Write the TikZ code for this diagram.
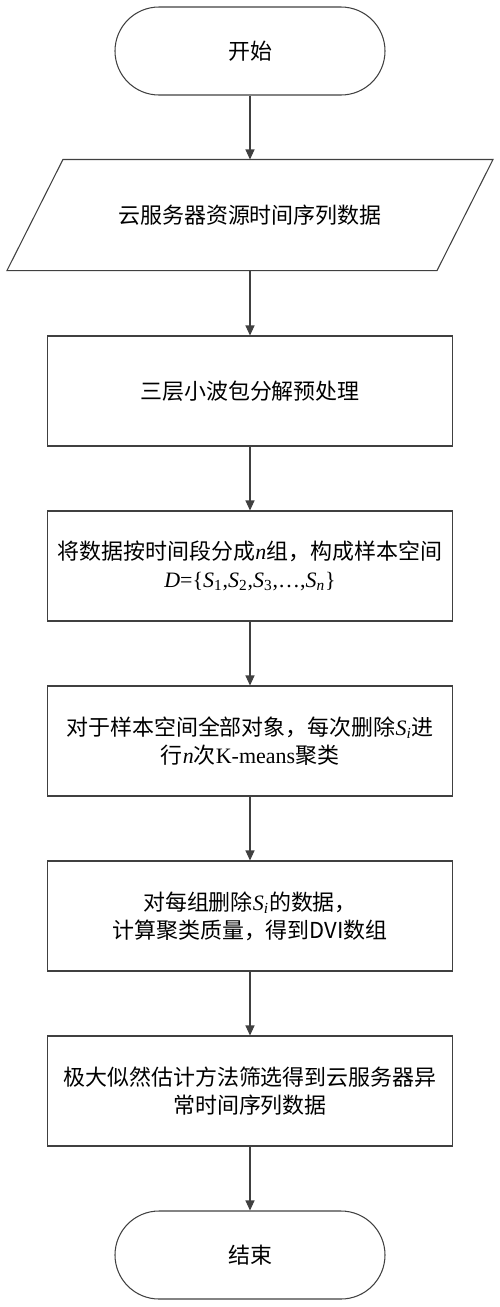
\documentclass[tikz,border=0pt]{standalone}
\usepackage{fontspec}
\usepackage{tikz}
\usetikzlibrary{arrows.meta,positioning,shapes.geometric}
\newfontfamily\cjk{Noto Sans CJK SC}
\newfontfamily\tms{Liberation Serif}
\newcommand\sv[1]{\textit{S}\textsubscript{#1}}

\begin{document}
\begin{tikzpicture}[
        font=\cjk\fontsize{12.5pt}{16pt}\selectfont,
        line width=0.6pt,
        term/.style={draw=black!75, rounded corners=0.88cm, minimum width=5.4cm, minimum height=1.76cm},
        iodata/.style={minimum width=8.58cm, minimum height=2.2cm},
        box/.style={draw=black!75, align=center, minimum width=8.1cm, minimum height=2.2cm},
        arr/.style={-{Triangle[length=2mm, width=1.8mm]}, draw=black!75}
    ]
        \useasboundingbox (0, 0) rectangle (10, -26.14);
        \node[term] (start) at (5, -1.02) {开始};
        \node[iodata] (series) at (5, -4.30) {云服务器资源时间序列数据};
        \draw[draw=black!75] ([xshift=0.56cm]series.north west) -- ([xshift=0.56cm]series.north east)
            -- ([xshift=-0.56cm]series.south east) -- ([xshift=-0.56cm]series.south west) -- cycle;
        \node[box] (wpd) at (5, -7.82) {三层小波包分解预处理};
        \node[box] (groups) at (5, -11.32)
            {将数据按时间段分成{\tms\itshape n}组，构成样本空间\\
             {\tms\textit{D}=\{\sv{1},\sv{2},\sv{3},\ldots,\sv{\textit{n}}\}}};
        \node[box] (kmeans) at (5, -14.82)
            {对于样本空间全部对象，每次删除{\tms\sv{\textit{i}}}进\\
             行{\tms\itshape n}次{\tms K-means}聚类};
        \node[box] (dvi) at (5, -18.32)
            {对每组删除{\tms\sv{\textit{i}}}的数据，\\计算聚类质量，得到DVI数组};
        \node[box] (mle) at (5, -21.82)
            {极大似然估计方法筛选得到云服务器异\\常时间序列数据};
        \node[term] (stop) at (5, -25.10) {结束};

        \draw[arr] (start) -- (series);
        \draw[arr] (series) -- (wpd);
        \draw[arr] (wpd) -- (groups);
        \draw[arr] (groups) -- (kmeans);
        \draw[arr] (kmeans) -- (dvi);
        \draw[arr] (dvi) -- (mle);
        \draw[arr] (mle) -- (stop);
    \end{tikzpicture}
\end{document}
